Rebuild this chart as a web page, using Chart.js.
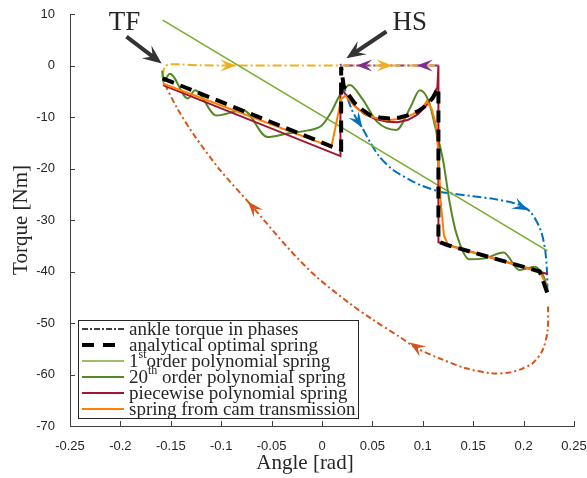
<!DOCTYPE html>
<html>
<head>
<meta charset="utf-8">
<script src="https://cdn.jsdelivr.net/npm/chart.js@4.4.0/dist/chart.umd.min.js"></script>
<style>
  html, body { margin: 0; padding: 0; background: #fff; }
</style>
</head>
<body>
<canvas id="grafico" width="587" height="478"></canvas>
<script>
// eixos
const xTicks = [-0.25, -0.2, -0.15, -0.1, -0.05, 0, 0.05, 0.1, 0.15, 0.2, 0.25];
const yTicks = [-70, -60, -50, -40, -30, -20, -10, 0, 10];

// fases do torque no tornozelo
const faseAmareloX = [-0.1577, -0.1572, -0.156, -0.153, -0.148, -0.14, -0.12, -0.085, 0.019, 0.07, 0.1155];
const faseAmareloY = [-2.2, -1.0, -0.2, 0.15, 0.25, 0.2, 0.05, 0, 0, 0, 0];
const faseRoxoX = [0.1155, 0.094, 0.034, 0.019, 0.0172];
const faseRoxoY = [0, 0, 0, 0, 0.8];
const faseAzulX = [0.019, 0.0205, 0.024, 0.029, 0.034, 0.04, 0.048, 0.057, 0.07, 0.087, 0.1, 0.117, 0.13, 0.15, 0.17, 0.19, 0.2, 0.207, 0.213, 0.218, 0.2215, 0.2232, 0.2236];
const faseAzulY = [0, -2.5, -5.5, -8.3, -10.3, -12.1, -15.0, -17.7, -20.2, -22.2, -23.4, -24.5, -24.9, -25.4, -25.9, -26.7, -27.4, -28.5, -30.3, -32.6, -36.0, -40.0, -44.0];
const faseLaranjaX = [0.2243, 0.2238, 0.219, 0.209, 0.197, 0.186, 0.17, 0.143, 0.117, 0.094, 0.077, 0.05, 0.0275, -0.0056, -0.032, -0.0717, -0.1015, -0.128, -0.1445, -0.156, -0.1577];
const faseLaranjaY = [-46.8, -51.4, -55.2, -57.8, -59.0, -59.6, -59.8, -58.8, -56.9, -54.9, -52.7, -49.3, -46.2, -41.0, -35.8, -26.8, -20.2, -13.2, -8.0, -3.5, -2.2];

// molas
const analiticaX = [-0.158, 0.0143, 0.019, 0.019, 0.0215, 0.026, 0.0324, 0.04, 0.0473, 0.057, 0.067, 0.077, 0.087, 0.096, 0.1036, 0.11, 0.115, 0.1155, 0.1155, 0.125, 0.216, 0.2236];
const analiticaY = [-2.5, -16.1, -16.3, -0.3, -4.0, -5.6, -7.3, -8.6, -9.6, -10.1, -10.3, -10.1, -9.6, -8.8, -7.7, -6.3, -4.4, -4.4, -34.2, -34.9, -40.0, -44.2];
const ordem1X = [-0.158, 0.2236];
const ordem1Y = [8.8, -36.0];
const ordem20X = [-0.1585, -0.1575, -0.151, -0.133, -0.126, -0.105, -0.078, -0.054, -0.034, -0.014, 0, 0.0093, 0.0176, 0.0275, 0.04, 0.055, 0.0738, 0.088, 0.097, 0.106, 0.113, 0.12, 0.127, 0.1333, 0.146, 0.16, 0.18, 0.196, 0.211, 0.216, 0.221, 0.2236];
const ordem20Y = [-1.0, -3.2, -1.6, -6.4, -4.8, -9.7, -8.7, -13.9, -13.2, -12.6, -11.6, -9.0, -5.8, -3.8, -6.5, -11.0, -12.5, -8.0, -4.8, -7.0, -12.5, -18.3, -27.0, -32.6, -37.6, -37.5, -36.3, -39.7, -39.1, -39.8, -41.5, -44.0];
const porPartesX = [-0.1577, 0.0183, 0.0183, 0.024, 0.032, 0.042, 0.053, 0.065, 0.075, 0.085, 0.095, 0.103, 0.109, 0.1145, 0.1155, 0.1155, 0.2236];
const porPartesY = [-3.8, -17.6, -4.1, -5.8, -7.8, -9.4, -10.4, -10.9, -11.0, -10.6, -9.5, -7.9, -6.2, -4.2, 0, -34.3, -40.5];
const cameX = [-0.158, 0.0093, 0.019, 0.023, 0.028, 0.035, 0.045, 0.057, 0.067, 0.08, 0.09, 0.1, 0.104, 0.109, 0.113, 0.1155, 0.1175, 0.121, 0.125, 0.216, 0.2226];
const cameY = [-3.5, -15.8, -6.5, -5.9, -6.9, -8.4, -9.7, -10.4, -10.6, -10.3, -9.5, -8.2, -6.9, -8.5, -11.5, -17.0, -26.0, -33.0, -34.9, -40.0, -42.6];

// setas nas fases: ponta (x, y) e cauda (x, y)
const setasAmarelo = [[-0.085, 0, -0.1, 0], [0.07, 0, 0.055, 0]];
const setasRoxo = [[0.034, 0, 0.05, 0], [0.094, 0, 0.11, 0]];
const setasAzul = [[0.04, -12.1, 0.034, -10.3], [0.2045, -28.1, 0.19, -26.7]];
const setasLaranja = [[0.087, -53.8, 0.1, -55.5], [-0.0734, -26.4, -0.06, -29.5]];

// anotações TF e HS
const rotulos = ['TF', 'HS'];
const rotuloX = [-0.196, 0.087];
const rotuloY = [8.2, 8.2];
const anotSetaX = [[-0.194, -0.159], [0.0639, 0.0242]];
const anotSetaY = [[5.6, 0.4], [6.6, 1.4]];

const legendaTextos = ['ankle torque in phases', 'analytical optimal spring', '1^{st}order polynomial spring', '20^{th} order polynomial spring', 'piecewise polynomial spring', 'spring from cam transmission'];

const cores = {
    azul: '#0072BD', laranja: '#D95319', amarelo: '#EDB120', roxo: '#7E2F8E',
    verde: '#77AC30', verdeEsc: '#548A24', vinho: '#A2142F', cam: '#FF8000'
};

const zip = (xs, ys) => xs.map((x, i) => ({ x: x, y: ys[i] }));
const fmt = v => String(Math.round(v * 100) / 100);

function fase(dados, cor, tensao) {
    return { data: dados, borderColor: cor, borderWidth: 2, borderDash: [9, 3, 2, 3], tension: tensao, pointRadius: 0, showLine: true, order: 6 };
}

const datasets = [
    Object.assign(fase(zip(faseAmareloX, faseAmareloY), cores.amarelo, 0.3), { setas: setasAmarelo }),
    Object.assign(fase(zip(faseRoxoX, faseRoxoY), cores.roxo, 0), { setas: setasRoxo }),
    Object.assign(fase(zip(faseAzulX, faseAzulY), cores.azul, 0.3), { setas: setasAzul }),
    Object.assign(fase(zip(faseLaranjaX, faseLaranjaY), cores.laranja, 0.3), { setas: setasLaranja, borderDash: [6, 3, 2, 3] }),
    { data: zip(ordem1X, ordem1Y), borderColor: cores.verde, borderWidth: 1.6, pointRadius: 0, showLine: true, order: 5 },
    { data: zip(ordem20X, ordem20Y), borderColor: cores.verdeEsc, borderWidth: 2, pointRadius: 0, showLine: true, cubicInterpolationMode: 'monotone', order: 4 },
    { data: zip(porPartesX, porPartesY), borderColor: cores.vinho, borderWidth: 2, pointRadius: 0, showLine: true, order: 3 },
    { data: zip(cameX, cameY), borderColor: cores.cam, borderWidth: 2, pointRadius: 0, showLine: true, order: 2 },
    { data: zip(analiticaX, analiticaY), borderColor: '#000', borderWidth: 4, borderDash: [12, 7], pointRadius: 0, showLine: true, order: 1 }
];

const amostrasLegenda = [
    { cor: '#000', largura: 1.5, traco: [6, 2, 2, 2] },
    { cor: '#000', largura: 4, traco: [12, 9] },
    { cor: cores.verde, largura: 1.6, traco: [] },
    { cor: cores.verdeEsc, largura: 2, traco: [] },
    { cor: cores.vinho, largura: 2, traco: [] },
    { cor: cores.cam, largura: 2, traco: [] }
];

function pontaSeta(ctx, x, y, ang, comp, larg, cor) {
    ctx.save();
    ctx.translate(x, y);
    ctx.rotate(ang);
    ctx.fillStyle = cor;
    ctx.beginPath();
    ctx.moveTo(0, 0);
    ctx.lineTo(-comp, -larg / 2);
    ctx.lineTo(-comp * 0.6, 0);
    ctx.lineTo(-comp, larg / 2);
    ctx.closePath();
    ctx.fill();
    ctx.restore();
}

const extras = {
    id: 'extras',
    afterDatasetsDraw(chart) {
        const ctx = chart.ctx, sx = chart.scales.x, sy = chart.scales.y;
        // setas das fases
        chart.data.datasets.forEach(ds => {
            (ds.setas || []).forEach(s => {
                const px = sx.getPixelForValue(s[0]), py = sy.getPixelForValue(s[1]);
                const qx = sx.getPixelForValue(s[2]), qy = sy.getPixelForValue(s[3]);
                pontaSeta(ctx, px, py, Math.atan2(py - qy, px - qx), 16, 12, ds.borderColor);
            });
        });
        // marcas dos eixos para dentro
        const area = chart.chartArea;
        ctx.save();
        ctx.strokeStyle = '#404040';
        ctx.lineWidth = 1;
        ctx.beginPath();
        xTicks.forEach(v => {
            const p = Math.round(sx.getPixelForValue(v)) + 0.5;
            ctx.moveTo(p, area.bottom); ctx.lineTo(p, area.bottom - 5);
        });
        yTicks.forEach(v => {
            const p = Math.round(sy.getPixelForValue(v)) + 0.5;
            ctx.moveTo(area.left, p); ctx.lineTo(area.left + 5, p);
        });
        ctx.stroke();
        ctx.restore();
        // TF e HS
        ctx.save();
        ctx.fillStyle = '#262626';
        ctx.font = '27px "Liberation Serif"';
        ctx.textAlign = 'center';
        ctx.textBaseline = 'middle';
        rotulos.forEach((t, i) => ctx.fillText(t, sx.getPixelForValue(rotuloX[i]), sy.getPixelForValue(rotuloY[i])));
        anotSetaX.forEach((xs, i) => {
            const x0 = sx.getPixelForValue(xs[0]), y0 = sy.getPixelForValue(anotSetaY[i][0]);
            const x1 = sx.getPixelForValue(xs[1]), y1 = sy.getPixelForValue(anotSetaY[i][1]);
            const ang = Math.atan2(y1 - y0, x1 - x0);
            ctx.strokeStyle = '#333';
            ctx.lineWidth = 4;
            ctx.beginPath();
            ctx.moveTo(x0, y0);
            ctx.lineTo(x1 - Math.cos(ang) * 10, y1 - Math.sin(ang) * 10);
            ctx.stroke();
            pontaSeta(ctx, x1, y1, ang, 19, 16, '#333');
        });
        ctx.restore();
    },
    afterDraw(chart) {
        const ctx = chart.ctx, area = chart.chartArea;
        ctx.save();
        // títulos dos eixos
        ctx.fillStyle = '#262626';
        ctx.font = '21px "Liberation Serif"';
        ctx.textAlign = 'center';
        ctx.textBaseline = 'middle';
        ctx.fillText('Angle [rad]', 305, 463);
        ctx.translate(21, (area.top + area.bottom) / 2);
        ctx.rotate(-Math.PI / 2);
        ctx.fillText('Torque [Nm]', 0, 0);
        ctx.restore();

        // legenda
        const bx = area.left + 8, by = area.bottom - 106, bw = 280, bh = 98, passo = 16;
        ctx.save();
        ctx.fillStyle = '#fff';
        ctx.fillRect(bx, by, bw, bh);
        ctx.strokeStyle = '#262626';
        ctx.lineWidth = 1;
        ctx.strokeRect(bx + 0.5, by + 0.5, bw, bh);
        ctx.textBaseline = 'middle';
        legendaTextos.forEach((txt, i) => {
            const y = by + 9 + i * passo;
            const a = amostrasLegenda[i];
            ctx.strokeStyle = a.cor;
            ctx.lineWidth = a.largura;
            ctx.setLineDash(a.traco);
            ctx.beginPath();
            ctx.moveTo(bx + 4, y); ctx.lineTo(bx + 46, y);
            ctx.stroke();
            ctx.setLineDash([]);
            ctx.fillStyle = '#262626';
            let x = bx + 51;
            txt.split(/(\^\{[^}]*\})/).forEach(parte => {
                if (!parte) return;
                if (parte.startsWith('^{')) {
                    const s = parte.slice(2, -1);
                    ctx.font = '12px "Liberation Serif"';
                    ctx.fillText(s, x, y - 6);
                    x += ctx.measureText(s).width;
                } else {
                    ctx.font = '19px "Liberation Serif"';
                    ctx.fillText(parte, x, y + 1);
                    x += ctx.measureText(parte).width;
                }
            });
        });
        ctx.restore();
    }
};

const eixo = {
    type: 'linear',
    grid: { display: false },
    border: { display: true, color: '#404040', width: 1 },
    ticks: { font: { family: 'Liberation Sans', size: 13 }, color: '#262626', autoSkip: false, maxRotation: 0, callback: v => fmt(v) }
};

new Chart(document.getElementById('grafico').getContext('2d'), {
    type: 'scatter',
    data: { datasets: datasets },
    options: {
        responsive: false,
        animation: false,
        layout: { padding: { top: 14, right: 13, left: 0, bottom: 0 } },
        plugins: { legend: { display: false }, tooltip: { enabled: false } },
        scales: {
            x: Object.assign({}, eixo, {
                min: -0.25, max: 0.25,
                ticks: Object.assign({}, eixo.ticks, { padding: 5 }),
                afterBuildTicks: s => { s.ticks = xTicks.map(v => ({ value: v })); },
                afterFit: s => { s.height = 52; s.paddingLeft = 0; s.paddingRight = 0; }
            }),
            y: Object.assign({}, eixo, {
                min: -70, max: 10,
                ticks: Object.assign({}, eixo.ticks, { padding: 7 }),
                afterBuildTicks: s => { s.ticks = yTicks.map(v => ({ value: v })); },
                afterFit: s => { s.width = 70; s.paddingTop = 0; s.paddingBottom = 0; }
            })
        }
    },
    plugins: [extras]
});
</script>
</body>
</html>
